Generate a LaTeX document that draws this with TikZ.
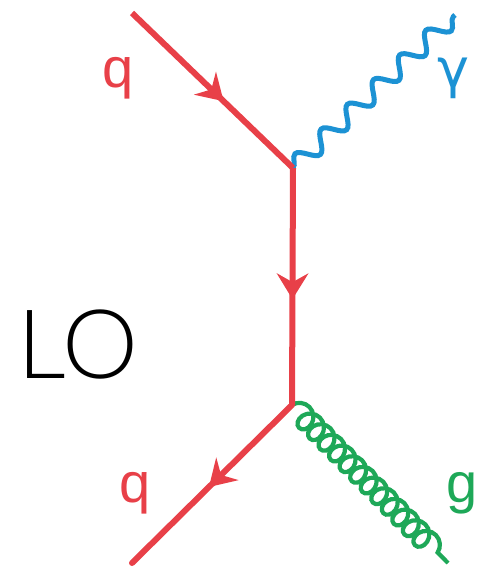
\documentclass[tikz,border=0pt]{standalone}
\usepackage{fontspec}
\setmainfont{Liberation Sans}
\newfontfamily\lofont{Lato}[UprightFont=* Light]
\newfontfamily\gfont{DejaVu Sans}
\usetikzlibrary{decorations.pathmorphing,decorations.markings}
\definecolor{qred}{RGB}{232,64,72}
\definecolor{phblue}{RGB}{28,146,212}
\definecolor{glgreen}{RGB}{30,168,88}
\tikzset{
  quark/.style={draw=qred,line width=6pt},
  arrowat/.style={postaction={decorate,decoration={markings,
     mark=at position #1 with {\fill[qred] (2pt,0pt) -- (-24pt,16pt) -- (-15pt,0pt) -- (-24pt,-16pt) -- cycle;}}}},
  photon/.style={draw=phblue,line width=5pt,decorate,
     decoration={snake,segment length=36pt,amplitude=9pt}},
  gluon/.style={draw=glgreen,line width=4.2pt,decorate,
     decoration={coil,segment length=15pt,amplitude=11pt,aspect=0.9}},
  lbl/.style={font=\fontsize{56}{60}\selectfont},
}
\begin{document}
\begin{tikzpicture}[x=1pt,y=-1pt]
\useasboundingbox[fill=white] (0,0) rectangle (479,572);
\coordinate (qin) at (132,13);
\coordinate (v1) at (293,168);
\coordinate (v2) at (292,405);
\coordinate (qout) at (132,563);
\coordinate (gam) at (455,15);
\coordinate (glu) at (448,563);
\draw[photon] (v1) -- (gam);
\draw[gluon] (v2) -- (glu);
\draw[quark,arrowat=0.56] (qin) -- (v1);
\draw[quark,arrowat=0.545] (v1) -- (v2);
\draw[quark,line cap=round,arrowat=0.51] (v2) -- (qout);
\node[lbl,text=qred] (lq1) at (118,78) {q};
\node[lbl,text=phblue,font=\gfont\fontsize{54}{60}\selectfont] (lg) at (453,78) {γ};
\node[lbl,text=qred] (lq2) at (135,493) {q};
\node[lbl,text=glgreen] (lgl) at (462,493) {g};
\node[font=\lofont\fontsize{96}{100}\selectfont] (lo) at (78,345) {LO};
\end{tikzpicture}
\end{document}
